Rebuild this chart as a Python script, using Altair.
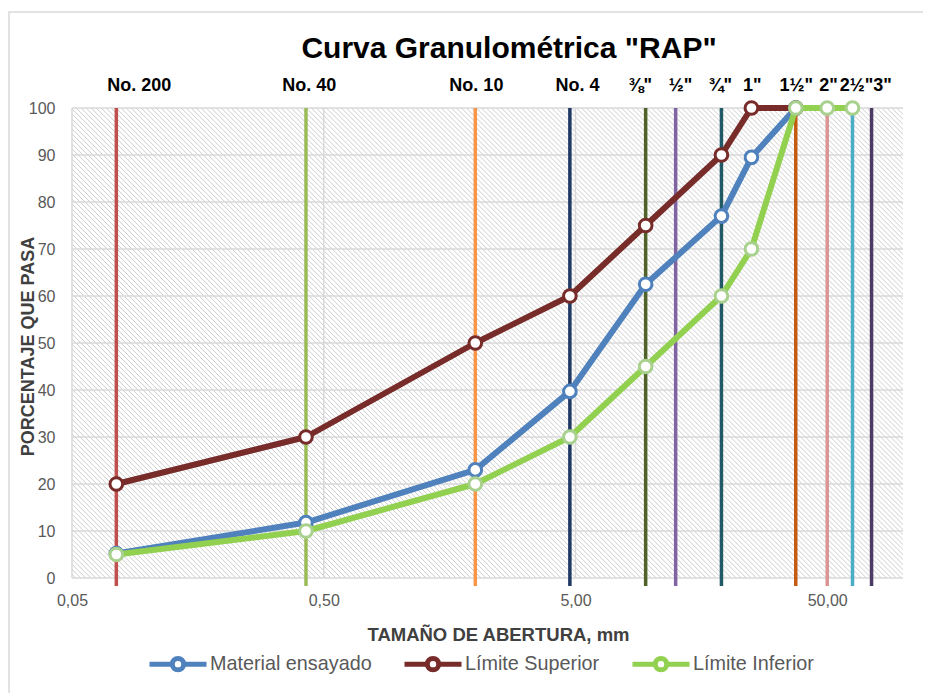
import altair as alt
import pandas as pd

W, H = 831, 470
FONT = "Liberation Sans"

# ---------------- data ----------------
sizes = [0.075, 0.425, 2.0, 4.75, 9.5, 19.0, 25.0, 37.5, 50.0, 63.0]
material = [5.2, 11.8, 23.0, 39.7, 62.5, 77.0, 89.5, 100.0]
superior = [20, 30, 50, 60, 75, 90, 100, 100]
inferior = [5, 10, 20, 30, 45, 60, 70, 100, 100, 100]
series_names = ["Material ensayado", "Límite Superior", "Límite Inferior"]
series_values = [material, superior, inferior]
line_colors = ["#4f81bd", "#772c2a", "#92d050"]
marker_colors = ["#4f81bd", "#772c2a", "#a9d18e"]

sieve_mm = [0.075, 0.425, 2.0, 4.75, 9.5, 12.5, 19.0, 37.5, 50.0, 63.0, 75.0]
sieve_colors = ["#c0504d", "#9bbb59", "#f79646", "#1f3864", "#4f6228", "#8064a2",
                "#215967", "#c55a11", "#d99694", "#4bacc6", "#4b3a63"]
sieve_names = ["No. 200", "No. 40", "No. 10", "No. 4", "⅜\"", "½\"", "¾\"", "1\"",
               "1½\"", "2\"", "2½\"", "3\""]
sieve_label_x = [0.0925, 0.438, 2.02, 5.09, 9.05, 13.06, 18.8, 25.2, 37.7, 50.6, 65.3, 82.9]

x_ticks = [0.05, 0.5, 5, 50]
y_ticks = [0, 10, 20, 30, 40, 50, 60, 70, 80, 90, 100]

# ---------------- scales ----------------
xscale = alt.Scale(type="log", domain=[0.05, 100], nice=False)
yscale = alt.Scale(domain=[0, 100], nice=False, zero=True)

# ---------------- hatch background (gradient stripes) ----------------
N = 260
stops = []
for i in range(N):
    stops.append(alt.GradientStop(color="#ffffff", offset=i / N))
    stops.append(alt.GradientStop(color="#ffffff", offset=(i + 0.55) / N))
    stops.append(alt.GradientStop(color="#cdcdcd", offset=(i + 0.75) / N))
    stops.append(alt.GradientStop(color="#ffffff", offset=(i + 0.95) / N))
stops.append(alt.GradientStop(color="#ffffff", offset=1.0))
k = (W + H) / (W * W + H * H)
hatch_grad = alt.Gradient(gradient="linear", stops=stops, x1=0, y1=1, x2=k * W, y2=1 - k * H)

one = pd.DataFrame({"a": [0]})
hatch = alt.Chart(one).mark_rect(fill=hatch_grad, strokeWidth=0).encode(
    x=alt.value(0), x2=alt.value(W), y=alt.value(0), y2=alt.value(H)
)

# ---------------- grid + axes ----------------
grid_h = alt.Chart(pd.DataFrame({"v": y_ticks})).mark_rule(color="#d9d9d9", strokeWidth=1.5).encode(
    y=alt.Y("v:Q", scale=yscale, axis=alt.Axis(
        values=y_ticks, grid=False, ticks=False, domain=False, labelFlush=False,
        labelFontSize=16, labelColor="#595959", labelFont=FONT, labelPadding=17,
        title="PORCENTAJE QUE PASA", titleFont=FONT, titleFontSize=18, titleFontWeight="bold",
        titleColor="#404040", titleX=-44, titleY=H / 2 + 3, titleAngle=-90,
        titleAlign="center", titleBaseline="middle"))
)
grid_v = alt.Chart(pd.DataFrame({"v": x_ticks})).mark_rule(color="#d9d9d9", strokeWidth=1.5).encode(
    x=alt.X("v:Q", scale=xscale, axis=alt.Axis(
        values=x_ticks, grid=False, ticks=False, domain=False, labelFlush=False,
        labelExpr="replace(format(datum.value, '.2f'), '.', ',')",
        labelFontSize=16, labelColor="#595959", labelFont=FONT, labelPadding=14,
        title="TAMAÑO DE ABERTURA, mm", titleFont=FONT, titleFontSize=18.5, titleFontWeight="bold",
        titleColor="#404040", titleX=426, titleY=47, titleAlign="center", titleBaseline="top"))
)

# ---------------- sieve vertical lines ----------------
sieves = pd.DataFrame({"mm": sieve_mm, "c": sieve_colors})
sieve_rules = alt.Chart(sieves).mark_rule(strokeWidth=3.5).encode(
    x=alt.X("mm:Q", scale=xscale),
    y=alt.datum(100, scale=yscale),
    y2=alt.value(H + 8),
    color=alt.Color("c:N", scale=None),
)

# ---------------- series ----------------
legend_path = "M-1,0L-0.2,0M0.2,0L1,0M-0.2,0A0.2,0.2,0,1,1,0.2,0A0.2,0.2,0,1,1,-0.2,0"
legend = alt.Legend(
    orient="none", legendX=75, legendY=525, direction="horizontal", title=None,
    symbolType=legend_path, symbolSize=3249, symbolStrokeWidth=5, symbolFillColor="white",
    labelFontSize=19.8, labelColor="#595959", labelFont=FONT, labelOffset=1,
    columnPadding=22, labelLimit=400, padding=0,
)
color_scale = alt.Scale(domain=series_names, range=line_colors)
marker_scale = alt.Scale(domain=series_names, range=marker_colors)

series_layers = []
for name, vals in zip(series_names, series_values):
    df = pd.DataFrame({"size": sizes[:len(vals)], "pct": vals, "series": name})
    base = alt.Chart(df)
    line = base.mark_line(strokeWidth=6, strokeJoin="round", strokeCap="round").encode(
        x=alt.X("size:Q", scale=xscale),
        y=alt.Y("pct:Q", scale=yscale),
        color=alt.Color("series:N", scale=color_scale, legend=legend),
    )
    pts = base.mark_point(shape="circle", fill="white", filled=True, size=160, strokeWidth=3, opacity=1).encode(
        x=alt.X("size:Q", scale=xscale),
        y=alt.Y("pct:Q", scale=yscale),
        stroke=alt.Stroke("series:N", scale=marker_scale, legend=None),
    )
    series_layers += [line, pts]

# ---------------- sieve labels ----------------
labels = alt.Chart(pd.DataFrame({"x": sieve_label_x, "t": sieve_names})).mark_text(
    font=FONT, fontSize=18, fontWeight="bold", color="black", baseline="middle", align="center"
).encode(x=alt.X("x:Q", scale=xscale), y=alt.value(-22), text="t:N")

# ---------------- title & border ----------------
title = alt.Chart(one).mark_text(
    text='Curva Granulométrica "RAP"', font=FONT, fontSize=30, fontWeight="bold",
    color="black", align="center", baseline="alphabetic"
).encode(x=alt.value(437), y=alt.value(-50))

border = alt.Chart(one).mark_rect(filled=False, stroke="#d9d9d9", strokeWidth=1.5).encode(
    x=alt.value(-63), y=alt.value(-96), x2=alt.value(W + 80), y2=alt.value(H + 200)
)

chart = alt.layer(
    border, hatch, grid_h, grid_v, sieve_rules, *series_layers, labels, title
).properties(
    width=W, height=H,
    autosize=alt.AutoSizeParams(type="none"),
    padding={"left": 64, "top": 100, "right": 20, "bottom": 115},
).configure_view(stroke=None)

chart.save("out.html", embed_options={"renderer": "svg", "actions": False})
